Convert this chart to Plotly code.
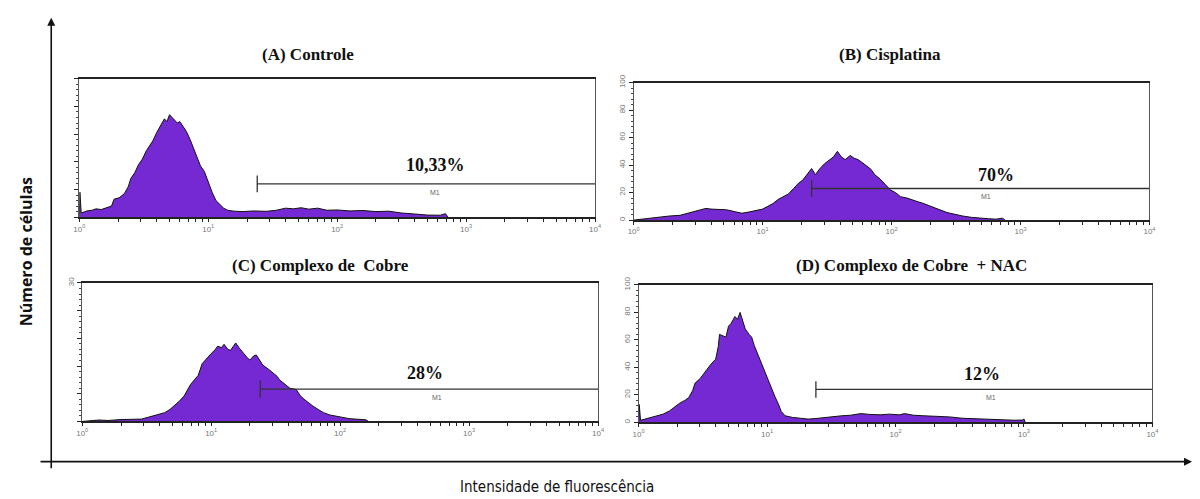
import numpy as np
import plotly.graph_objects as go

# ---------------- data ----------------
titles = ["(A) Controle", "(B) Cisplatina", "(C) Complexo de  Cobre", "(D) Complexo de Cobre  + NAC"]
pct_labels = ["10,33%", "70%", "28%", "12%"]
y_max = [100, 100, 30, 100]

# log10(fluorescence) bin positions and counts
A_log = [0.00, 0.005, 0.015, 0.06, 0.10, 0.13, 0.17, 0.21, 0.25, 0.27, 0.31, 0.35, 0.38, 0.40, 0.43, 0.46, 0.49, 0.52, 0.55, 0.57,
         0.60, 0.63, 0.66, 0.68, 0.70, 0.72, 0.74, 0.76, 0.78, 0.80, 0.83, 0.86, 0.89, 0.91, 0.94, 0.97, 1.00, 1.03, 1.06, 1.09,
         1.12, 1.15, 1.20, 1.27, 1.35, 1.45, 1.53, 1.60, 1.66, 1.72, 1.78, 1.85, 1.92, 2.00, 2.10, 2.20, 2.30, 2.40, 2.50, 2.60,
         2.70, 2.80, 2.84, 2.86]
A_cnt = [0, 18, 3, 4.5, 5, 6, 5.5, 6.5, 8, 13, 14, 17, 22, 28, 32, 38, 42, 48, 52, 55,
         61, 66, 71, 69, 74, 72, 70, 68, 69, 66, 62, 56, 49, 43, 37, 33, 25, 18, 12, 9,
         6.5, 5, 4.3, 4, 4.5, 4.2, 5, 6.5, 6, 6.8, 5.8, 6.5, 5, 5.2, 4.5, 4.8, 4, 4.3, 3, 2.3,
         1.5, 1.4, 2.5, 0]

B_log = [0.00, 0.12, 0.20, 0.28, 0.36, 0.42, 0.47, 0.52, 0.56, 0.60, 0.66, 0.72, 0.79, 0.84, 0.90, 0.95, 1.00, 1.04, 1.08, 1.12,
         1.16, 1.20, 1.24, 1.28, 1.31, 1.35, 1.38, 1.41, 1.44, 1.48, 1.52, 1.55, 1.58, 1.61, 1.64, 1.68, 1.71, 1.74, 1.77, 1.80,
         1.84, 1.87, 1.91, 1.95, 1.99, 2.03, 2.07, 2.12, 2.16, 2.20, 2.25, 2.30, 2.36, 2.43, 2.50, 2.55, 2.62, 2.68, 2.75, 2.81,
         2.86, 2.88]
B_cnt = [0, 1.4, 2, 3, 3.5, 5, 6.5, 7.5, 8.5, 8, 7.8, 7.5, 6, 5, 6, 7, 8, 10, 12, 15,
         17, 19, 23, 27, 29, 34, 37.5, 33, 37, 41, 44, 46, 50, 46, 44, 47, 45, 44, 42, 40,
         37, 33, 30, 26, 22, 20, 17, 16, 15, 13.5, 12, 10, 8, 5.5, 4, 3, 2, 1.4, 1, 0.7,
         1.4, 0]

C_log = [0.00, 0.13, 0.20, 0.30, 0.46, 0.50, 0.54, 0.60, 0.64, 0.68, 0.71, 0.75, 0.79, 0.82, 0.84, 0.87, 0.90, 0.93, 0.96, 1.00,
         1.03, 1.05, 1.08, 1.10, 1.13, 1.15, 1.17, 1.19, 1.22, 1.25, 1.28, 1.30, 1.33, 1.35, 1.38, 1.40, 1.44, 1.48, 1.51, 1.53,
         1.57, 1.61, 1.66, 1.69, 1.72, 1.76, 1.79, 1.83, 1.87, 1.92, 1.97, 2.02, 2.07, 2.12, 2.20, 2.22]
C_cnt = [0, 0.3, 0.2, 0.4, 0.5, 0.8, 1.1, 1.5, 1.9, 2.6, 3.3, 4.3, 5.5, 7, 8, 9, 10, 12.5, 13.5, 14.7,
         15.5, 16.3, 16, 16.7, 15.6, 15.4, 16.2, 17, 15.8, 14.7, 13.8, 13.3, 14.2, 14.4, 13, 12.2, 11.4, 10.4, 9.8, 9,
         8, 7.2, 6.9, 5.6, 4.8, 3.9, 3.3, 2.6, 1.9, 1.4, 1.1, 0.85, 0.6, 0.5, 0.35, 0]

D_log = [0.00, 0.005, 0.015, 0.05, 0.10, 0.14, 0.19, 0.24, 0.28, 0.32, 0.36, 0.39, 0.42, 0.44, 0.48, 0.52, 0.56, 0.60, 0.62, 0.63,
         0.66, 0.68, 0.70, 0.72, 0.75, 0.77, 0.79, 0.81, 0.83, 0.86, 0.88, 0.90, 0.93, 0.96, 0.98, 1.01, 1.035, 1.06, 1.09, 1.11,
         1.14, 1.20, 1.26, 1.32, 1.38, 1.45, 1.52, 1.58, 1.65, 1.73, 1.80, 1.88, 1.95, 2.03, 2.07, 2.14, 2.22, 2.32, 2.42, 2.52,
         2.65, 2.75, 2.83, 2.92, 2.99, 3.00, 3.01]
D_cnt = [0, 13, 1.5, 2.4, 3.5, 4.8, 6, 8.3, 11, 14, 16, 18, 23, 28.6, 32, 37, 42, 46, 55, 64,
         63, 62, 70, 72, 77, 75, 80, 74, 68, 64, 62, 56, 49, 42, 37, 31, 25, 19, 13, 8,
         4.8, 3.6, 3, 2.4, 2.8, 3.6, 4, 4.8, 5.2, 6.4, 5.8, 5.5, 6, 5.5, 6.4, 5.2, 4.8, 4.5, 4, 3,
         2.4, 2, 1.7, 1.6, 1.7, 2.5, 0]

hist_log = [A_log, B_log, C_log, D_log]
hist_cnt = [A_cnt, B_cnt, C_cnt, D_cnt]

# M1 gate: start intensity and drawn level (count units)
m1_start = [24, 24, 24, 24]
m1_level = [24, 23, 7, 24]
m1_half = [6, 6, 1.8, 6]
pct_label_y = [37.5, 33, 10.4, 35.5]
pct_label_logx = [2.76, 2.81, 2.66, 2.67]
m1_label_y = [17.5, 17.3, 5.1, 17.9]
m1_label_logx = [2.76, 2.73, 2.75, 2.74]

# ---------------- layout geometry (pixels) ----------------
W, H = 1200, 499
panels_px = [  # left, right, top, bottom
    (74, 595, 72, 213),
    (634, 1155, 76, 216),
    (77, 598, 280, 421),
    (639, 1158, 282, 422),
]
title_px = [(305, 47), (893, 47), (318, 262), (915, 262)]

PURPLE = "#7429D3"
fig = go.Figure()

minor_x = [m * 10 ** d for d in range(4) for m in range(1, 10)] + [10000]
minor_x_text = ["10<sup>%d</sup>" % int(round(np.log10(v))) if abs(np.log10(v) - round(np.log10(v))) < 1e-9 else "" for v in minor_x]

for i in range(4):
    xa = "x" if i == 0 else "x%d" % (i + 1)
    ya = "y" if i == 0 else "y%d" % (i + 1)
    xs = 10 ** np.array(hist_log[i])
    fig.add_trace(go.Scatter(x=xs, y=hist_cnt[i], mode="lines", fill="tozeroy",
                             fillcolor=PURPLE, line=dict(color="#111", width=1),
                             xaxis=xa, yaxis=ya, showlegend=False, hoverinfo="skip"))
    lvl = m1_level[i]
    fig.add_trace(go.Scatter(x=[m1_start[i], 10000], y=[lvl, lvl], mode="lines",
                             line=dict(color="#333", width=1.3), xaxis=xa, yaxis=ya,
                             showlegend=False, hoverinfo="skip"))
    fig.add_trace(go.Scatter(x=[m1_start[i], m1_start[i]], y=[lvl - m1_half[i], lvl + m1_half[i]],
                             mode="lines", line=dict(color="#333", width=1.3), xaxis=xa, yaxis=ya,
                             showlegend=False, hoverinfo="skip"))

    l, r, t, b = panels_px[i]
    xd = [l / W, r / W]
    yd = [1 - b / H, 1 - t / H]
    ymax = y_max[i]
    step = ymax / 5
    yt = [step * k for k in range(6)]
    if i in (1, 3):
        ytext = ["%d" % v for v in yt]
    elif i == 2:
        ytext = [""] * 5 + ["%d" % ymax]
    else:
        ytext = [""] * 6
    fig.update_layout(**{
        ("xaxis" if i == 0 else "xaxis%d" % (i + 1)): dict(
            type="log", range=[0, 4], domain=xd, anchor=ya,
            tickvals=minor_x, ticktext=minor_x_text, ticks="outside", ticklen=3,
            tickcolor="#222", tickfont=dict(size=8, color="#777", family="Liberation Sans"),
            showline=True, linecolor="#222", linewidth=1.5, mirror=True,
            showgrid=False, zeroline=False, fixedrange=True),
        ("yaxis" if i == 0 else "yaxis%d" % (i + 1)): dict(
            range=[0, ymax], domain=yd, anchor=xa,
            tickvals=yt, ticktext=ytext, ticks="outside", ticklen=4, tickcolor="#222",
            tickangle=-90, tickfont=dict(size=8, color="#777", family="Liberation Sans"),
            minor=dict(ticks="outside", ticklen=2, dtick=step / 5, tickcolor="#444"),
            showline=True, linecolor="#555", linewidth=1.2, mirror=True,
            showgrid=False, zeroline=False, fixedrange=True),
    })

    fig.add_annotation(text="<b>%s</b>" % titles[i], x=title_px[i][0] / W, y=1 - title_px[i][1] / H,
                       xref="paper", yref="paper", showarrow=False, xanchor="center", yanchor="middle",
                       font=dict(family="Liberation Serif", size=17, color="#111"))
    fig.add_annotation(text="<b>%s</b>" % pct_labels[i], x=pct_label_logx[i], y=pct_label_y[i],
                       xref=xa, yref=ya, showarrow=False, xanchor="center", yanchor="middle",
                       font=dict(family="Liberation Serif", size=18, color="#111"))
    fig.add_annotation(text="M1", x=m1_label_logx[i], y=m1_label_y[i],
                       xref=xa, yref=ya, showarrow=False, xanchor="center", yanchor="middle",
                       font=dict(family="Liberation Sans", size=7, color="#666"))

# big axis arrows
fig.add_annotation(x=45.7 / W, y=1 - 10 / H, xref="paper", yref="paper", ax=0, ay=452,
                   showarrow=True, arrowhead=2, arrowsize=1, arrowwidth=1.6, arrowcolor="#111", text="")
fig.add_annotation(x=1198 / W, y=1 - 462 / H, xref="paper", yref="paper", ax=-1153, ay=0,
                   showarrow=True, arrowhead=2, arrowsize=1, arrowwidth=1.6, arrowcolor="#111", text="")

fig.add_annotation(text="<b>Número de células</b>", x=20 / W, y=1 - 248 / H, xref="paper", yref="paper",
                   showarrow=False, textangle=-90, xanchor="center", yanchor="middle",
                   font=dict(family="Open Sans", size=16, color="#111"))
fig.add_annotation(text="Intensidade de fluorescência", x=557 / W, y=1 - 488 / H, xref="paper", yref="paper",
                   showarrow=False, xanchor="center", yanchor="middle",
                   font=dict(family="DejaVu Sans Condensed, Liberation Sans Narrow, Roboto", size=15, color="#111"))

fig.update_layout(width=W, height=H, margin=dict(l=0, r=0, t=0, b=0),
                  paper_bgcolor="white", plot_bgcolor="white", showlegend=False)

fig.write_html("out.html", config={"displayModeBar": False},
               post_script="document.body.style.margin='0';document.body.style.overflow='hidden';")
